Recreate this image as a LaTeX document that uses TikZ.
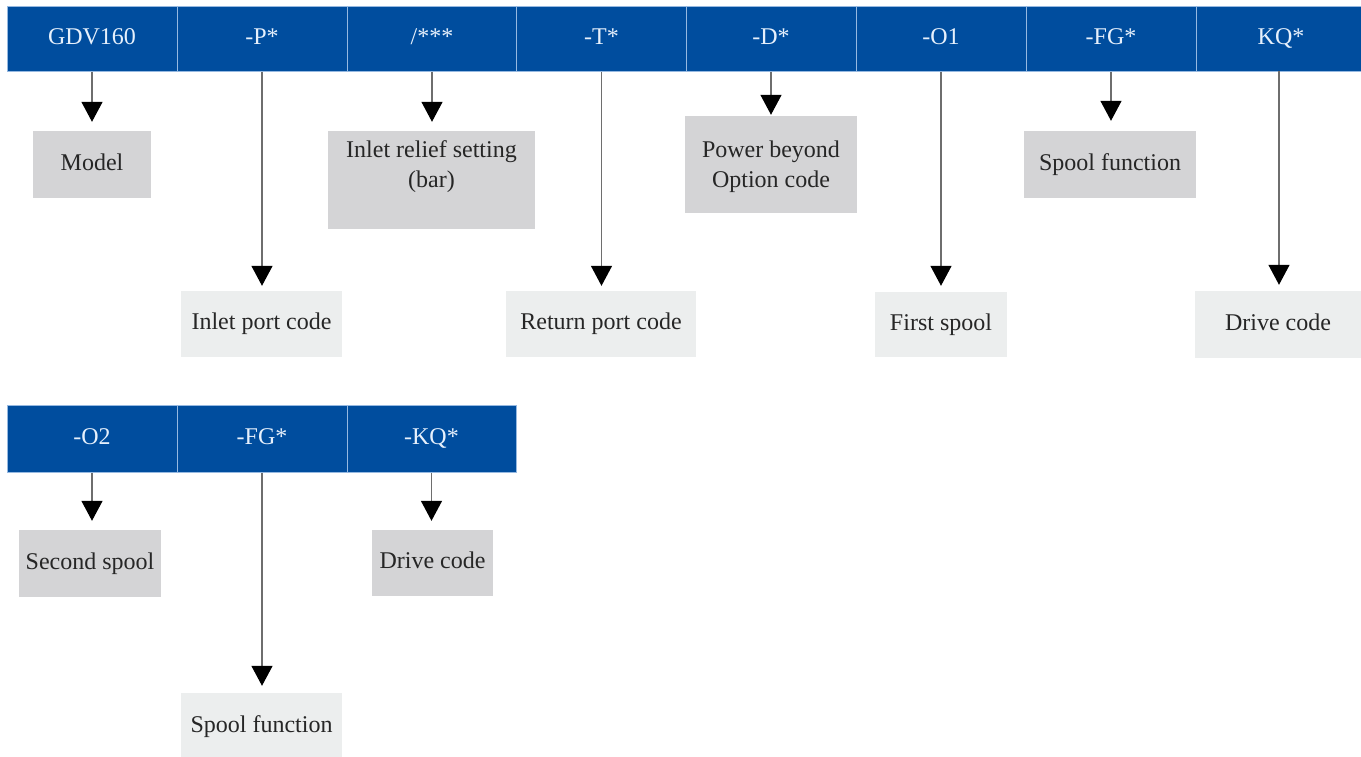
\documentclass[tikz,border=0pt]{standalone}
\usepackage{fontspec}
\setmainfont{Liberation Serif}
\usetikzlibrary{arrows.meta}
\definecolor{barblue}{RGB}{0,77,158}
\definecolor{barline}{RGB}{150,185,225}
\definecolor{bartext}{RGB}{230,240,252}
\definecolor{darkbox}{RGB}{212,212,214}
\definecolor{lightbox}{RGB}{236,238,238}
\definecolor{arrowline}{RGB}{110,110,110}
\tikzset{
  cell/.style={draw=barline, line width=1pt, fill=barblue, text=bartext,
    minimum width=170pt, minimum height=65pt, inner sep=0pt, anchor=center,
    text height=16pt, text depth=5pt,
    font=\fontsize{24}{30}\selectfont},
  mbox/.style={fill=darkbox, text=black!85, inner sep=0pt, anchor=center,
    align=center, font=\fontsize{24}{30}\selectfont},
  dbox/.style={mbox, text height=16pt, text depth=5pt},
  lbox/.style={dbox, fill=lightbox},
  conn/.style={draw=arrowline, line width=1.4pt,
    -{Triangle[width=21pt,length=20pt,black,fill=black]}},
}
\begin{document}
\begin{tikzpicture}[x=1pt,y=-1pt]
\useasboundingbox (0,0) rectangle (1361,756);
% top bar
\node[cell] (c1) at (92,38.5) {GDV160};
\node[cell] (c2) at (262,38.5) {-P*};
\node[cell] (c3) at (432,38.5) {/***};
\node[cell] (c4) at (601.5,38.5) {-T*};
\node[cell] (c5) at (771,38.5) {-D*};
\node[cell] (c6) at (941,38.5) {-O1};
\node[cell] (c7) at (1111,38.5) {-FG*};
\node[cell] (c8) at (1281,38.5) {KQ*};
% second bar
\node[cell, minimum height=67pt] (d1) at (92,438.5) {-O2};
\node[cell, minimum height=67pt] (d2) at (262,438.5) {-FG*};
\node[cell, minimum height=67pt, minimum width=169pt] (d3) at (431.5,438.5) {-KQ*};
% boxes row 1
\node[dbox, minimum width=118pt, minimum height=67pt] (model) at (92,164.5) {Model};
\node[mbox, minimum width=207pt, minimum height=98pt] (relief) at (431.5,180) {Inlet relief setting\\(bar)\\[-8pt]\strut};
\node[mbox, minimum width=172pt, minimum height=97pt] (power) at (771,164.5) {\strut Power beyond\\Option code};
\node[dbox, minimum width=172pt, minimum height=67pt] (spool1) at (1110,164.5) {Spool function};
% boxes row 2
\node[lbox, minimum width=161pt, minimum height=66pt] (inlet) at (261.5,324) {Inlet port code};
\node[lbox, minimum width=190pt, minimum height=66pt] (return) at (601,324) {Return port code};
\node[lbox, minimum width=132pt, minimum height=65pt] (first) at (941,324.5) {First spool};
\node[lbox, minimum width=166pt, minimum height=67pt] (drive1) at (1278,324.5) {Drive code};
% boxes row 3
\node[dbox, minimum width=142pt, minimum height=67pt] (second) at (90,563.5) {Second spool};
\node[dbox, minimum width=121pt, minimum height=66pt] (drive2) at (432.5,563) {Drive code};
\node[lbox, minimum width=161pt, minimum height=67pt] (spool2) at (261.5,726.5) {Spool function};
% connectors
\draw[conn, shorten >=9pt] (c1.south) -- (c1.south |- model.north);
\draw[conn, shorten >=5pt] (c2.south) -- (c2.south |- inlet.north);
\draw[conn, shorten >=9pt] (c3.south) -- (c3.south |- relief.north);
\draw[conn, shorten >=5pt] (c4.south) -- (c4.south |- return.north);
\draw[conn, shorten >=1pt] (c5.south) -- (c5.south |- power.north);
\draw[conn, shorten >=6pt] (c6.south) -- (c6.south |- first.north);
\draw[conn, shorten >=10pt] (c7.south) -- (c7.south |- spool1.north);
\draw[conn, shorten >=6pt] (1279,71) -- (1279,0 |- drive1.north);
\draw[conn, shorten >=9pt] (d1.south) -- (d1.south |- second.north);
\draw[conn, shorten >=7pt] (d2.south) -- (d2.south |- spool2.north);
\draw[conn, shorten >=9pt] (d3.south) -- (d3.south |- drive2.north);
\end{tikzpicture}
\end{document}
